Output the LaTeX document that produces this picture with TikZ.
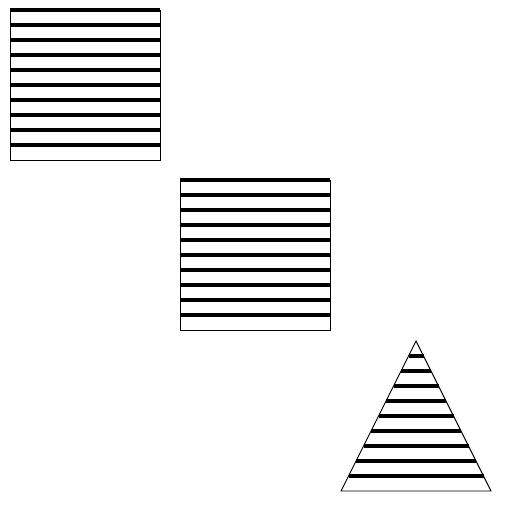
\documentclass[tikz,border=0pt]{standalone}
\begin{document}
\begin{tikzpicture}[x=1pt,y=-1pt,
  outline/.style={draw=black,line width=0.9pt},
  hatch/.style={draw=black,line width=3.1pt}]
\useasboundingbox (0,0) rectangle (512,512);
% square 1
\foreach \i in {0,...,9} {\draw[hatch] (10,10+15*\i) -- (160,10+15*\i);}
\draw[outline] (10,10) rectangle (160,160);
% square 2
\foreach \i in {0,...,9} {\draw[hatch] (180,180+15*\i) -- (330,180+15*\i);}
\draw[outline] (180,180) rectangle (330,330);
% triangle
\foreach \i in {1,...,9} {\pgfmathsetmacro{\d}{15*\i}\draw[hatch] (416-\d/2,341+\d) -- (416+\d/2,341+\d);}
\draw[outline] (416,341) -- (491,491) -- (341,491) -- cycle;
\end{tikzpicture}
\end{document}
